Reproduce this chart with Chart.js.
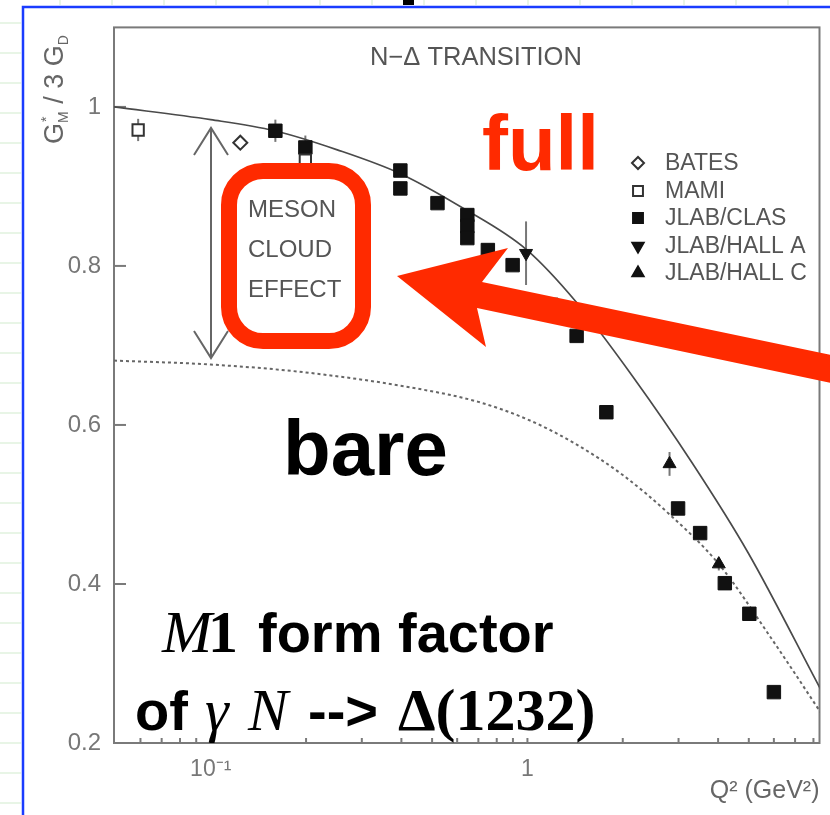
<!DOCTYPE html>
<html>
<head>
<meta charset="utf-8">
<script src="https://cdn.jsdelivr.net/npm/chart.js@4.4.1/dist/chart.umd.min.js"></script>
<style>
  html, body { margin: 0; padding: 0; background: #fff; }
  #wrap { width: 830px; height: 815px; }
</style>
</head>
<body>
<div id="wrap"><canvas id="chart" width="830" height="815"></canvas></div>
<script>
// courbes théoriques (Q^2 en GeV^2, G*M / 3GD)
const fullQ2 = [0.0495, 0.1, 0.159, 0.251, 0.397, 0.627, 0.993, 1.43, 2.15, 3.31, 4.98, 8.43];
const fullG  = [1.0, 0.984, 0.97, 0.946, 0.916, 0.8725, 0.8205, 0.754, 0.661, 0.5525, 0.439, 0.2675];
const bareQ2 = [0.0495, 0.1, 0.2, 0.445, 0.7, 1.0, 1.4, 2.0, 2.81, 4.02, 5.88, 8.43];
const bareG  = [0.681, 0.676, 0.666, 0.646, 0.629, 0.607, 0.5775, 0.537, 0.4875, 0.425, 0.332, 0.2385];

// points expérimentaux
const batesQ2 = [0.124];
const batesG  = [0.955];
const batesErr = [0];
const mamiQ2 = [0.059, 0.199];
const mamiG  = [0.971, 0.933];
const mamiErr = [0.014, 0.008];
const clasQ2 = [0.16, 0.199, 0.397, 0.397, 0.52, 0.646, 0.646, 0.646, 0.75, 0.898, 1.19, 1.43, 1.775, 2.99, 3.51, 4.2, 5.02, 6.0];
const clasG  = [0.97, 0.949, 0.92, 0.8975, 0.879, 0.864, 0.85, 0.835, 0.82, 0.801, 0.751, 0.712, 0.616, 0.495, 0.464, 0.401, 0.3625, 0.264];
const clasErr = [0.014, 0.015, 0, 0, 0, 0, 0, 0, 0, 0, 0, 0, 0, 0, 0, 0, 0, 0];
const hallAQ2 = [0.99];
const hallAG  = [0.816];
const hallAErr = [0.04];
const hallCQ2 = [2.81, 4.02];
const hallCG  = [0.551, 0.425];
const hallCErr = [0.015, 0.008];

const legendLabels = ['BATES', 'MAMI', 'JLAB/CLAS', 'JLAB/HALL A', 'JLAB/HALL C'];

// axes
const xTickValues = [0.1, 1];
const xTickLabels = ['10⁻¹', '1'];
const xMinorTicks = [0.06, 0.07, 0.08, 0.09, 0.1, 0.2, 0.3, 0.4, 0.5, 0.6, 0.7, 0.8, 0.9, 1, 2, 3, 4, 5, 6, 7, 8];
const yTickValues = [0.2, 0.4, 0.6, 0.8, 1];
const yTickLabels = ['0.2', '0.4', '0.6', '0.8', '1'];

const SANS = '"Liberation Sans", Arial, sans-serif';
const SERIF = '"Liberation Serif", "Times New Roman", serif';
const RED = '#ff2a00';

function pts(xs, ys) {
    return xs.map((x, i) => ({ x: x, y: ys[i] }));
}

function seg(ctx, x1, y1, x2, y2) {
    ctx.beginPath();
    ctx.moveTo(x1, y1);
    ctx.lineTo(x2, y2);
    ctx.stroke();
}

// décor : fond de la diapo, cadre, graduations intérieures, barres d'erreur, annotations
const decoPlugin = {
    id: 'deco',
    beforeDraw(chart) {
        const ctx = chart.ctx;
        ctx.save();
        ctx.fillStyle = '#fff';
        ctx.fillRect(0, 0, chart.width, chart.height);
        ctx.strokeStyle = '#e8f5e6';
        ctx.lineWidth = 2;
        for (let y = 23; y < chart.height; y += 30) seg(ctx, 0, y, 21, y);
        for (let x = 60; x < chart.width; x += 52) seg(ctx, x, 0, x, 5);
        ctx.fillStyle = '#000';
        ctx.fillRect(403, 0, 11, 5);
        ctx.strokeStyle = '#1a3cff';
        ctx.lineWidth = 2.5;
        ctx.beginPath();
        ctx.moveTo(23, chart.height);
        ctx.lineTo(23, 7);
        ctx.lineTo(chart.width, 7);
        ctx.stroke();
        ctx.restore();
    },
    beforeDatasetsDraw(chart) {
        const ctx = chart.ctx;
        const ca = chart.chartArea;
        const xs = chart.scales.x, ys = chart.scales.y;
        ctx.save();
        ctx.strokeStyle = '#7a7a7a';
        ctx.lineWidth = 2;
        ctx.strokeRect(ca.left, ca.top, ca.right - ca.left, ca.bottom - ca.top);
        xMinorTicks.forEach(v => {
            const px = xs.getPixelForValue(v);
            seg(ctx, px, ca.bottom, px, ca.bottom - 5);
        });
        yTickValues.forEach(v => {
            const py = ys.getPixelForValue(v);
            seg(ctx, ca.left, py, ca.left + 12, py);
        });
        // barres d'erreur
        ctx.strokeStyle = '#777';
        ctx.lineWidth = 2;
        chart.data.datasets.forEach(ds => {
            if (!ds.errors) return;
            ds.data.forEach((p, i) => {
                const e = ds.errors[i];
                if (!e) return;
                const px = xs.getPixelForValue(p.x);
                seg(ctx, px, ys.getPixelForValue(p.y - e), px, ys.getPixelForValue(p.y + e));
            });
        });
        ctx.restore();
    },
    afterDraw(chart) {
        const ctx = chart.ctx;
        ctx.save();

        // titre de l'axe y
        ctx.save();
        ctx.translate(63, 144);
        ctx.rotate(-Math.PI / 2);
        ctx.fillStyle = '#666';
        ctx.textBaseline = 'alphabetic';
        ctx.font = '27px ' + SANS;
        let u = 0;
        ctx.fillText('G', u, 0);
        u += ctx.measureText('G').width;
        ctx.font = '14px ' + SANS;
        ctx.fillText('*', u + 1, -12);
        ctx.fillText('M', u, 5);
        u += ctx.measureText('M').width;
        ctx.font = '27px ' + SANS;
        ctx.fillText(' / 3 G', u, 0);
        u += ctx.measureText(' / 3 G').width;
        ctx.font = '14px ' + SANS;
        ctx.fillText('D', u, 5);
        ctx.restore();

        // titre interne
        ctx.fillStyle = '#555';
        ctx.font = '25.5px ' + SANS;
        ctx.textBaseline = 'alphabetic';
        ctx.fillText('N\u2212\u0394 TRANSITION', 370, 65);

        // légende
        const rows = [163, 191, 218, 246, 273];
        chart.data.datasets.forEach(ds => {
            if (ds.legendRow === undefined) return;
            const y = rows[ds.legendRow];
            ctx.fillStyle = ds.backgroundColor;
            ctx.strokeStyle = ds.borderColor;
            ctx.lineWidth = 2;
            Chart.helpers.drawPoint(ctx, {
                pointStyle: ds.pointStyle,
                rotation: ds.pointRotation || 0,
                radius: ds.legendRadius,
                borderWidth: 2
            }, 638, y);
            ctx.fillStyle = '#555';
            ctx.font = '23px ' + SANS;
            ctx.textBaseline = 'middle';
            ctx.fillText(legendLabels[ds.legendRow], 665, y + 1);
        });

        // double flèche "meson cloud"
        ctx.strokeStyle = '#666';
        ctx.lineWidth = 2;
        seg(ctx, 211, 128, 211, 358);
        ctx.beginPath();
        ctx.moveTo(194, 155); ctx.lineTo(211, 128); ctx.lineTo(228, 155);
        ctx.moveTo(194, 331); ctx.lineTo(211, 358); ctx.lineTo(228, 331);
        ctx.stroke();

        ctx.fillStyle = '#555';
        ctx.font = '24px ' + SANS;
        ctx.textBaseline = 'alphabetic';
        ctx.fillText('MESON', 248, 217);
        ctx.fillText('CLOUD', 248, 257);
        ctx.fillText('EFFECT', 248, 297);

        ctx.strokeStyle = RED;
        ctx.lineWidth = 16;
        ctx.beginPath();
        ctx.roundRect(229, 171, 134, 170, 34);
        ctx.stroke();

        // grosse flèche rouge
        ctx.fillStyle = RED;
        ctx.beginPath();
        ctx.moveTo(397, 276);
        ctx.lineTo(508, 248);
        ctx.lineTo(482, 282);
        ctx.lineTo(850, 359);
        ctx.lineTo(850, 387);
        ctx.lineTo(477, 308);
        ctx.lineTo(486, 347);
        ctx.closePath();
        ctx.fill();

        // étiquettes
        ctx.font = 'bold 78px ' + SANS;
        ctx.fillStyle = RED;
        ctx.fillText('full', 482, 170);
        ctx.fillStyle = '#000';
        ctx.fillText('bare', 283, 475);

        ctx.fillStyle = '#000';
        ctx.font = 'italic 60px ' + SERIF;
        ctx.fillText('M', 162, 652);
        const w = ctx.measureText('M').width;
        ctx.font = 'bold 60px ' + SERIF;
        ctx.fillText('1', 162 + w - 4, 652);
        ctx.font = 'bold 56px ' + SANS;
        ctx.fillText('form factor', 258, 652);

        ctx.fillText('of', 135, 730);
        ctx.font = 'italic 60px ' + SERIF;
        ctx.fillText('\u03b3', 205, 730);
        ctx.fillText('N', 248, 730);
        ctx.font = 'bold 56px ' + SANS;
        ctx.fillText('-->', 308, 730);
        ctx.font = 'bold 60px ' + SERIF;
        ctx.fillText('\u0394(1232)', 398, 730);

        ctx.restore();
    }
};

const datasets = [
    {
        label: 'BATES', data: pts(batesQ2, batesG), errors: batesErr, legendRow: 0, legendRadius: 6,
        pointStyle: 'rectRot', pointRadius: 7, backgroundColor: '#fff', borderColor: '#333', borderWidth: 2
    },
    {
        label: 'MAMI', data: pts(mamiQ2, mamiG), errors: mamiErr, legendRow: 1, legendRadius: 7,
        pointStyle: 'rect', pointRadius: 8, backgroundColor: '#fff', borderColor: '#333', borderWidth: 2
    },
    {
        label: 'JLAB/CLAS', data: pts(clasQ2, clasG), errors: clasErr, legendRow: 2, legendRadius: 7,
        pointStyle: 'rect', pointRadius: 9.5, backgroundColor: '#111', borderColor: '#111', borderWidth: 1
    },
    {
        label: 'JLAB/HALL A', data: pts(hallAQ2, hallAG), errors: hallAErr, legendRow: 3, legendRadius: 6.5,
        pointStyle: 'triangle', pointRotation: 180, pointRadius: 7.5, backgroundColor: '#111', borderColor: '#111', borderWidth: 1
    },
    {
        label: 'JLAB/HALL C', data: pts(hallCQ2, hallCG), errors: hallCErr, legendRow: 4, legendRadius: 6.5,
        pointStyle: 'triangle', pointRadius: 7.5, backgroundColor: '#111', borderColor: '#111', borderWidth: 1
    },
    {
        label: 'full', data: pts(fullQ2, fullG), showLine: true, pointRadius: 0,
        borderColor: '#4a4a4a', borderWidth: 1.7, cubicInterpolationMode: 'monotone'
    },
    {
        label: 'bare', data: pts(bareQ2, bareG), showLine: true, pointRadius: 0,
        borderColor: '#666', borderWidth: 2, borderDash: [3, 3], cubicInterpolationMode: 'monotone'
    }
];

new Chart(document.getElementById('chart').getContext('2d'), {
    type: 'scatter',
    data: { datasets: datasets },
    options: {
        responsive: false,
        animation: false,
        events: [],
        layout: { padding: { left: 0, right: 1, top: 24, bottom: 0 } },
        plugins: { legend: { display: false }, tooltip: { enabled: false } },
        scales: {
            x: {
                type: 'logarithmic',
                bounds: 'data',
                min: 0.0495,
                max: 8.36,
                grid: { display: false, drawTicks: false },
                border: { display: false },
                afterBuildTicks: s => { s.ticks = xTickValues.map(v => ({ value: v })); },
                afterFit: s => { s.height = 72; },
                ticks: {
                    autoSkip: false, maxRotation: 0, padding: 13, color: '#777',
                    font: { family: SANS, size: 23 },
                    callback: (v, i) => xTickLabels[i]
                },
                title: {
                    display: true, text: 'Q² (GeV²)', align: 'end', color: '#666',
                    font: { family: SANS, size: 25 }, padding: { top: 0, bottom: 9 }
                }
            },
            y: {
                bounds: 'data',
                min: 0.2,
                max: 1.1,
                grid: { display: false, drawTicks: false },
                border: { display: false },
                afterBuildTicks: s => { s.ticks = yTickValues.map(v => ({ value: v })); },
                afterFit: s => { s.width = 114; },
                ticks: {
                    autoSkip: false, padding: 13, color: '#777',
                    font: { family: SANS, size: 24 },
                    callback: (v, i) => yTickLabels[i]
                }
            }
        }
    },
    plugins: [decoPlugin]
});
</script>
</body>
</html>
